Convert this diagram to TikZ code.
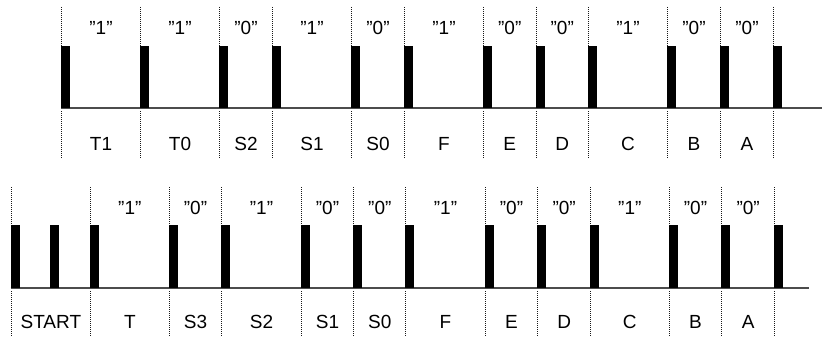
\documentclass[tikz,border=0pt]{standalone}
\usepackage{fontspec}
\setmainfont{Liberation Sans}
\begin{document}
\begin{tikzpicture}[x=1pt,y=-1pt,line join=round,
  pulse/.style={fill=black},
  guide/.style={black!90,line width=1pt,dash pattern=on 1pt off 1pt},
  wire/.style={black!70,line width=2pt},
  lbl/.style={anchor=base,inner sep=0pt,text=black,font=\fontsize{19}{21}\selectfont}]
  % Match the artwork frame.
  \useasboundingbox (0,0) rectangle (822,337);

  % Upper frame: baseline first, pulses and guides on top.
  \draw[wire] (61,108.3) -- (822,108.3);
  \foreach \px in {61,140,219,272,351,404,483,535.5,588,667,720,773}{
    \fill[pulse] (\px,46) rectangle ++(9,62);
    \draw[guide] (\px+0.5,7) -- (\px+0.5,46);
    \draw[guide] (\px+0.5,111) -- (\px+0.5,158);
  }

  % Upper frame: bit values above, field names below.
  \foreach \a/\b/\bit/\name in {61/140/1/T1,140/219/1/T0,219/272/0/S2,
      272/351/1/S1,351/404/0/S0,404/483/1/F,483/535.5/0/E,535.5/588/0/D,
      588/667/1/C,667/720/0/B,720/773/0/A}{
    \node[lbl] (ubit\name) at ({(\a+\b)/2+0.5},35) {"\bit"};
    \node[lbl] (uname\name) at ({(\a+\b)/2+0.5},150) {\name};
  }

  % Lower frame: start pulses, then the same fields.
  \draw[wire] (10.7,287.7) -- (809.3,287.7);
  \foreach \px in {10.7,50,90,168.7,221.3,300.7,353.3,405.3,484.7,537.3,
      590,668.7,721.3,774}{
    \fill[pulse] (\px,225) rectangle ++(9,62.7);
  }
  \foreach \px in {10.7,90,168.7,221.3,300.7,353.3,405.3,484.7,537.3,
      590,668.7,721.3,774}{
    \draw[guide] (\px+0.5,187) -- (\px+0.5,225);
    \draw[guide] (\px+0.5,291) -- (\px+0.5,337);
  }

  \node[lbl] (lnameSTART) at ({(10.7+90)/2+0.5},328) {START};
  \foreach \a/\b/\bit/\name in {90/168.7/1/T,168.7/221.3/0/S3,221.3/300.7/1/S2,
      300.7/353.3/0/S1,353.3/405.3/0/S0,405.3/484.7/1/F,484.7/537.3/0/E,
      537.3/590/0/D,590/668.7/1/C,668.7/721.3/0/B,721.3/774/0/A}{
    \node[lbl] (lbit\name) at ({(\a+\b)/2+0.5},214) {"\bit"};
    \node[lbl] (lname\name) at ({(\a+\b)/2+0.5},328) {\name};
  }
\end{tikzpicture}
\end{document}
